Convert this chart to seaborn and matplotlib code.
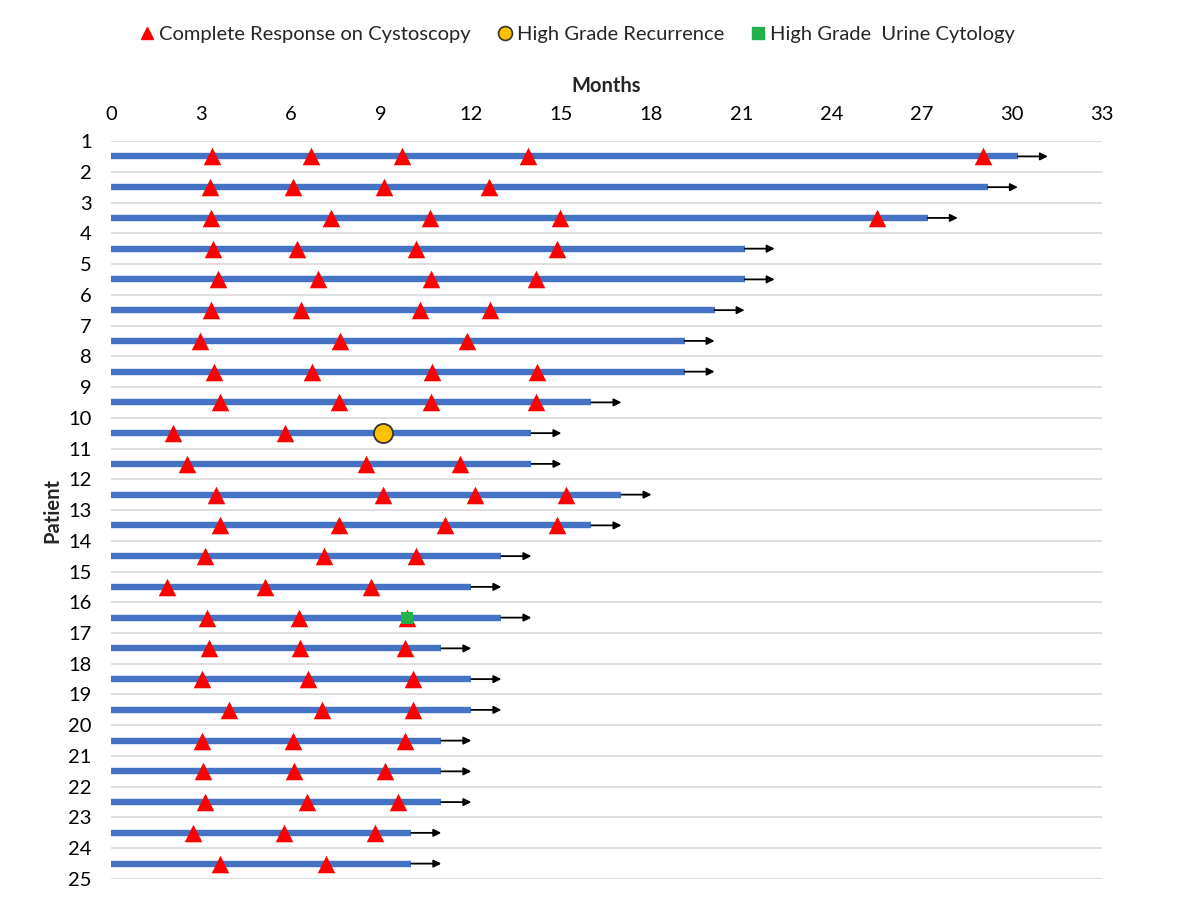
import matplotlib
matplotlib.use("Agg")
import matplotlib.pyplot as plt
from matplotlib.lines import Line2D
import seaborn as sns
import pandas as pd
import numpy as np

# ---- data ----
patients = list(range(1, 25))
duration = [30.2, 29.2, 27.2, 21.1, 21.1, 20.1, 19.1, 19.1, 16.0, 14.0, 14.0, 17.0,
            16.0, 13.0, 12.0, 13.0, 11.0, 12.0, 12.0, 11.0, 11.0, 11.0, 10.0, 10.0]
complete_response = [
    [3.36, 6.66, 9.69, 13.89, 29.04],
    [3.30, 6.06, 9.09, 12.59],
    [3.33, 7.33, 10.62, 14.95, 25.51],
    [3.40, 6.19, 10.16, 14.85],
    [3.56, 6.89, 10.66, 14.15],
    [3.33, 6.33, 10.29, 12.62],
    [2.96, 7.63, 11.85],
    [3.43, 6.69, 10.69, 14.19],
    [3.63, 7.59, 10.66, 14.15],
    [2.06, 5.79],
    [2.53, 8.49, 11.62],
    [3.50, 9.06, 12.12, 15.15],
    [3.63, 7.59, 11.12, 14.85],
    [3.13, 7.09, 10.16],
    [1.86, 5.13, 8.66],
    [3.20, 6.26, 9.86],
    [3.26, 6.29, 9.79],
    [3.03, 6.56, 10.06],
    [3.93, 7.03, 10.06],
    [3.03, 6.06, 9.79],
    [3.05, 6.08, 9.12],
    [3.12, 6.52, 9.56],
    [2.72, 5.75, 8.79],
    [3.64, 7.15],
]
recurrence_patient = [10]
recurrence_time = [9.06]
cytology_patient = [16]
cytology_time = [9.86]
arrow_len = 1.0
x_ticks = list(range(0, 34, 3))
y_ticks = list(range(1, 26))

# ---- style ----
sns.set_theme(style="white")
plt.rcParams['font.family'] = ['Lato', 'DejaVu Sans']
FS = 14.5

fig = plt.figure(figsize=(12, 9.07), dpi=100)
ax = fig.add_axes([0.0925, 0.0309, 0.8258, 0.8136])

blue = "#4472C4"
red = "#FF0000"
gold = "#FFC000"
green = "#22B14C"

# y positions: bars sit between category gridlines
ypos = [p + 0.5 for p in patients]

# gridlines
for y in y_ticks:
    ax.axhline(y, color="#D9D9D9", lw=1.2, zorder=0)

# bars
ax.hlines(ypos, 0, duration, color=blue, lw=4.6, zorder=2)
# arrows
for y, d in zip(ypos, duration):
    ax.annotate("", xy=(d + arrow_len, y), xytext=(d, y),
                arrowprops=dict(arrowstyle="-|>", color="black", lw=1.3,
                                mutation_scale=11, shrinkA=0, shrinkB=0),
                zorder=3)

cr = pd.DataFrame([(t, y) for y, ts in zip(ypos, complete_response) for t in ts],
                  columns=["month", "y"])
sns.scatterplot(data=cr, x="month", y="y", marker="^", s=160, color=red,
                linewidth=0, ax=ax, zorder=4)
rec = pd.DataFrame({"month": recurrence_time, "y": [p + 0.5 for p in recurrence_patient]})
sns.scatterplot(data=rec, x="month", y="y", marker="o", s=190, color=gold,
                edgecolor="#333333", linewidth=1.3, ax=ax, zorder=5)
cyt = pd.DataFrame({"month": cytology_time, "y": [p + 0.5 for p in cytology_patient]})
sns.scatterplot(data=cyt, x="month", y="y", marker="s", s=80, color=green,
                linewidth=0, ax=ax, zorder=5)

ax.set_xlim(0, 33)
ax.set_ylim(25, 1)
ax.set_xticks(x_ticks)
ax.set_yticks(y_ticks)
ax.set_yticklabels([str(v) for v in y_ticks])
ax.xaxis.tick_top()
ax.xaxis.set_label_position("top")
ax.tick_params(axis="x", length=0, pad=13, labelsize=FS, labelcolor="#000000")
ax.tick_params(axis="y", length=0, pad=14, labelsize=FS, labelcolor="#000000")
for s in ax.spines.values():
    s.set_visible(False)
ax.set_xlabel("Months", fontsize=FS, fontweight="bold", labelpad=10)
ax.set_ylabel("Patient", fontsize=FS, fontweight="bold", labelpad=4)
ax.grid(False)

handles = [
    Line2D([], [], marker="^", color=red, linestyle="None", markersize=9),
    Line2D([], [], marker="o", color=gold, markeredgecolor="#333333",
           markeredgewidth=1.2, linestyle="None", markersize=10),
    Line2D([], [], marker="s", color=green, linestyle="None", markersize=8),
]
labels = ["Complete Response on Cystoscopy", "High Grade Recurrence",
          "High Grade  Urine Cytology"]
fig.legend(handles, labels, loc="center", bbox_to_anchor=(0.48, 0.962), ncol=3,
           frameon=False, fontsize=FS, handletextpad=0.1, columnspacing=1.2,
           handlelength=1.0)

fig.savefig("out.png", dpi=100)
